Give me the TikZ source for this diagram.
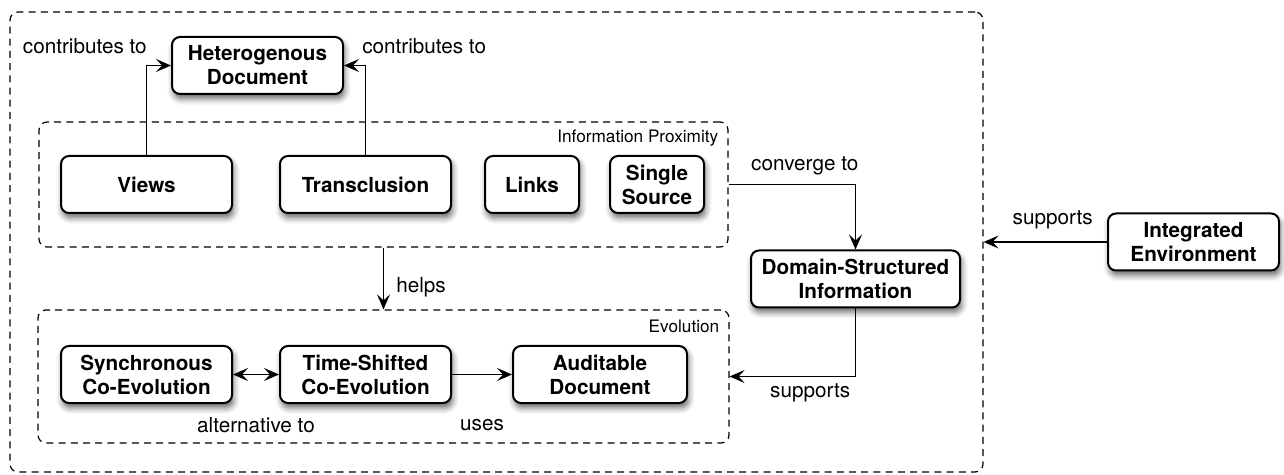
\documentclass[tikz,border=0pt]{standalone}
\usepackage{fontspec}
\setmainfont{TeX Gyre Heros}
\usetikzlibrary{arrows.meta,positioning,shadows.blur}

\begin{document}
\begin{tikzpicture}[x=0.5pt, y=-0.5pt,
  >={Stealth[length=7.5pt,width=6.5pt,inset=3pt]},
  every node/.style={font=\fontsize{10.35}{12}\selectfont},
  box/.style={draw, line width=1pt, rounded corners=4pt, fill=white, align=center,
    font=\fontsize{10.35}{12}\selectfont\bfseries, minimum width=85.5pt,
    minimum height=28.5pt, inner sep=2pt,
    blur shadow={shadow xshift=0.8pt, shadow yshift=-2.4pt,
      shadow blur radius=3pt, shadow opacity=60}},
  group/.style={draw, line width=0.6pt, dash pattern=on 3.5pt off 2.6pt,
    rounded corners=4pt, inner sep=0pt},
  tag/.style={inner sep=0pt, anchor=north east, font=\fontsize{8.6}{10}\selectfont},
  lbl/.style={inner sep=0pt},
  conn/.style={->, line width=0.8pt}]
  \useasboundingbox (0,0) rectangle (1284,475);

  % dashed groups
  \node[group, minimum width=486.5pt, minimum height=230pt] (outer) at (496.5,242) {};
  \node[group, minimum width=344.5pt, minimum height=62.5pt] (info) at (383.5,184.5) {};
  \node[group, minimum width=345.5pt, minimum height=66.5pt] (evol) at (383.5,376.5) {};
  \node[tag] (infotag) at ([xshift=-5pt,yshift=-4.2pt]info.north east) {Information Proximity};
  \node[tag] (evoltag) at ([xshift=-5pt,yshift=-5pt]evol.north east) {Evolution};

  % boxes
  \node[box] (het) at (257.5,65.5) {Heterogenous\\Document};
  \node[box] (views) at (146.5,184.5) {Views};
  \node[box] (trans) at (365.5,184.5) {Transclusion};
  \node[box, minimum width=47pt] (links) at (532,184.5) {Links};
  \node[box, minimum width=47pt] (single) at (657,184.5) {Single\\Source};
  \node[box, minimum width=104.5pt] (domain) at (855.5,279) {Domain-Structured\\Information};
  \node[box] (integ) at (1193.5,242) {Integrated\\Environment};
  \node[box] (sync) at (146.5,374.5) {Synchronous\\Co-Evolution};
  \node[box] (time) at (365.5,374.5) {Time-Shifted\\Co-Evolution};
  \node[box, minimum width=87pt] (audit) at (600,374.5) {Auditable\\Document};

  % connectors
  \draw[conn] (views.north) |- node[lbl, pos=0.5, above left=5.5pt and -0.5pt] {contributes to} (het.west);
  \draw[conn] (trans.north) |- node[lbl, pos=0.5, above right=5.5pt and -2pt] {contributes to} (het.east);
  \draw[conn] (info.east) -| node[lbl, pos=0.3, above=4.5pt] {converge to} (domain.north);
  \draw[conn] (info.south) -- node[lbl, pos=0.64, right=6pt] {helps} (evol.north);
  \draw[conn] (domain.south) |- node[lbl, pos=0.68, below=3pt] {supports} (evol.east);
  \draw[conn] (integ.west) -- node[lbl, pos=0.44, above=6pt] {supports} (outer.east);
  \draw[<->, line width=0.8pt] (sync) -- node[lbl, below=21pt] {alternative to} (time);
  \draw[conn] (time) -- node[lbl, below=22pt] {uses} (audit);
\end{tikzpicture}
\end{document}
